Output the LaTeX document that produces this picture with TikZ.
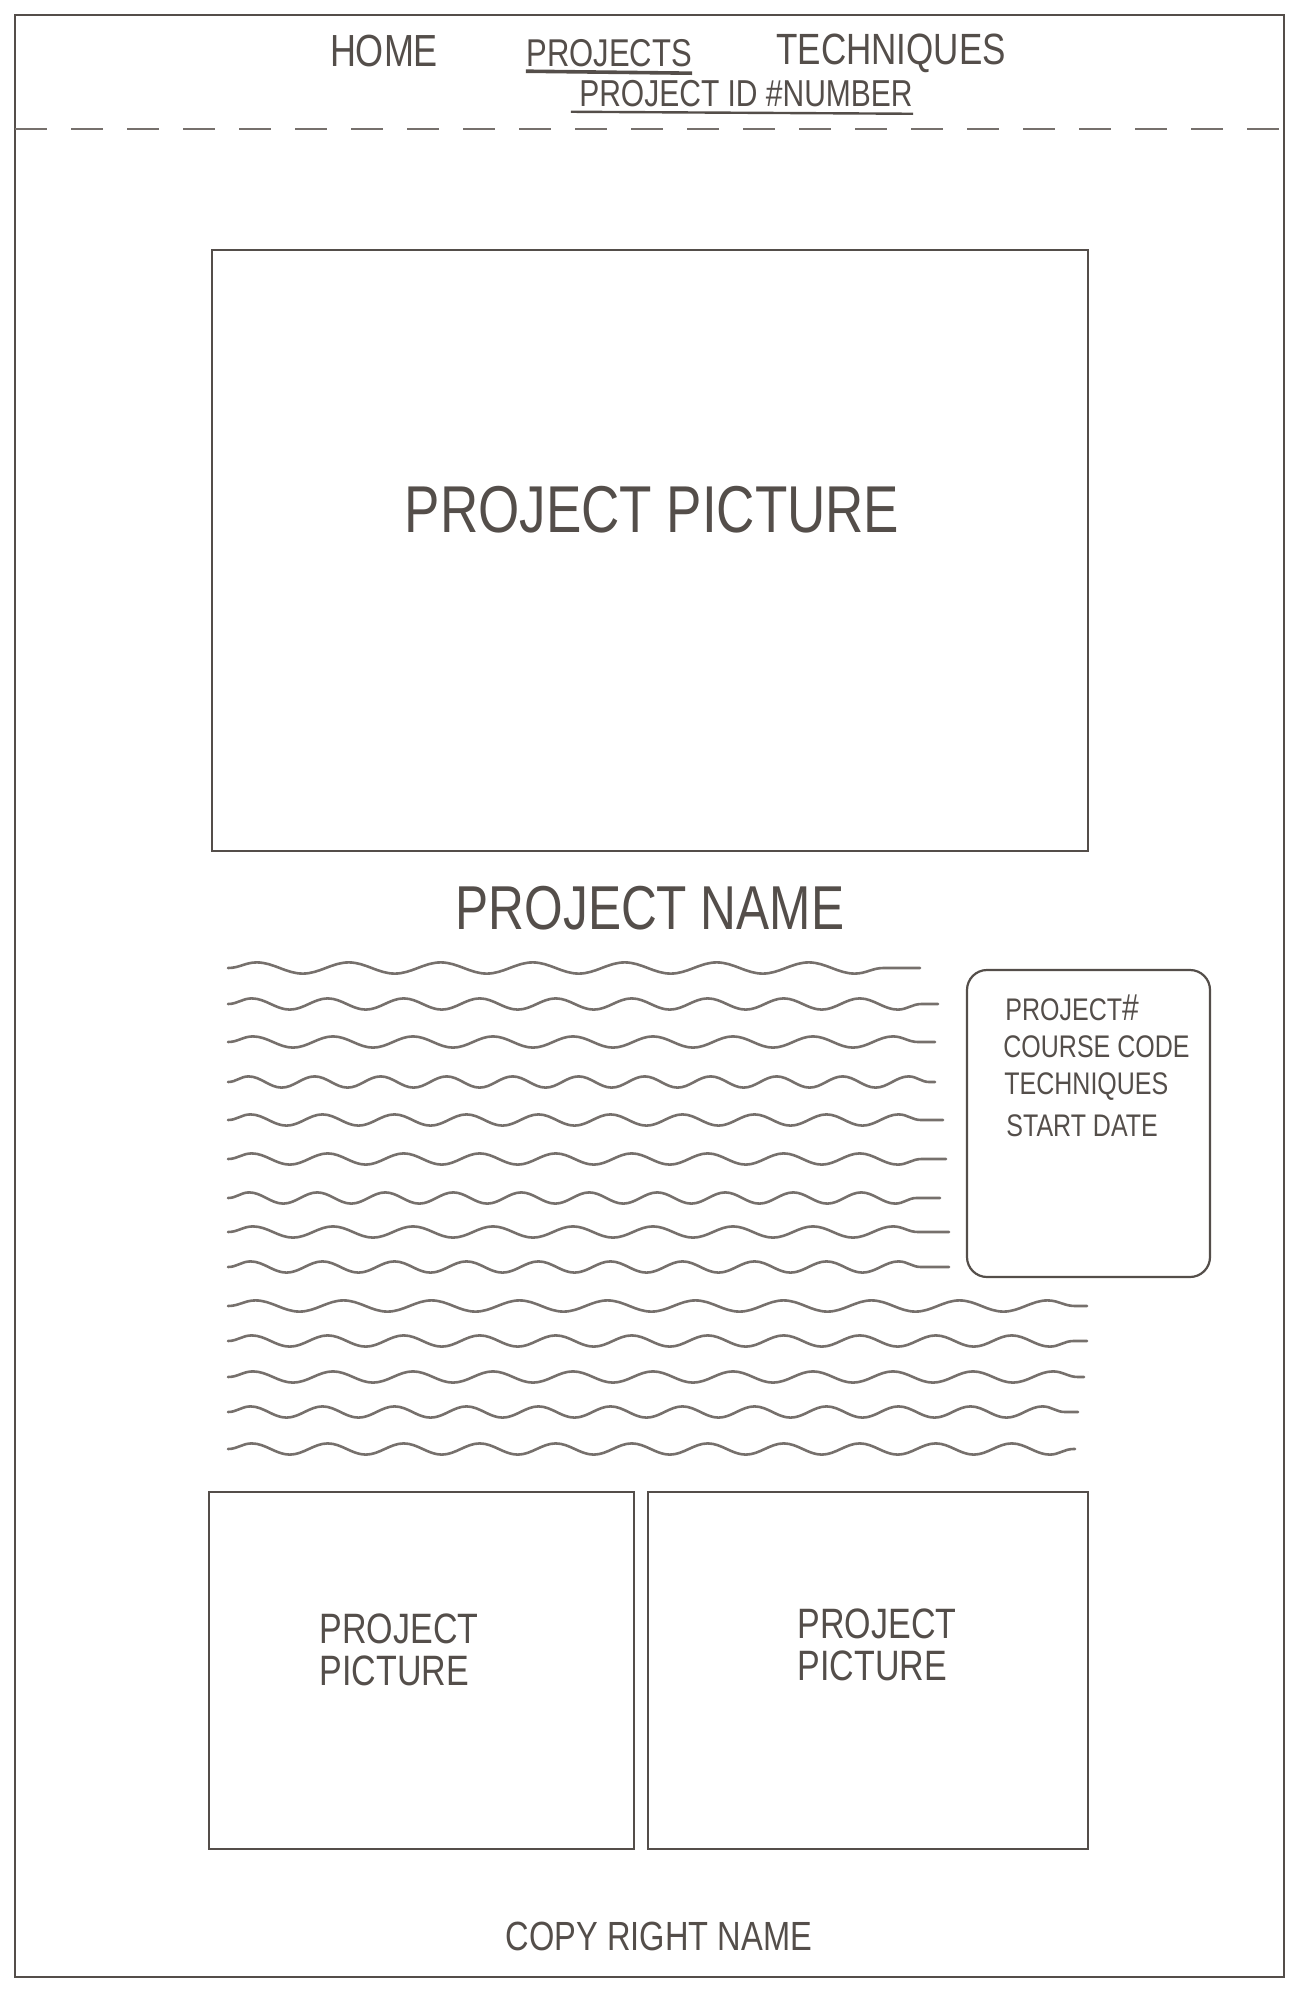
\documentclass[tikz,border=0pt]{standalone}
\usepackage{fontspec}
\setmainfont{Liberation Sans}
\usetikzlibrary{decorations.pathmorphing}
\definecolor{pencil}{RGB}{84,78,74}
\definecolor{lead}{RGB}{118,112,108}
\definecolor{faint}{RGB}{150,145,141}

\begin{document}
\begin{tikzpicture}[x=0.5pt, y=-0.5pt,
    hand/.style={text=pencil, inner sep=0pt, transform shape, yscale=1.25},
    frame/.style={draw=pencil, line width=1.1pt},
    wave/.style={draw=lead, line width=1.3pt, line cap=round, decorate,
      decoration={snake, amplitude=2.8pt, segment length=#1}}]
      \useasboundingbox (0,0) rectangle (1296,1989);

      % page and navigation bar
      \draw[frame] (15,15) rectangle (1284,1977);
      \node[hand, font=\fontsize{18}{20}\selectfont] (home) at (384,51) {HOME};
      \node[hand, font=\fontsize{15.5}{18}\selectfont] (projects) at (609,53) {PROJECTS};
      \node[hand, font=\fontsize{17.5}{20}\selectfont] (techniques) at (891,53) {TECHNIQUES};
      \draw[pencil, line width=1.8pt] ([yshift=-2pt]projects.south west) -- ([yshift=-3pt]projects.south east);
      \node[hand, font=\fontsize{15}{18}\selectfont] (projectid) at (746,94) {PROJECT ID \#NUMBER};
      \draw[pencil, line width=1.2pt] ([xshift=-4pt, yshift=-2pt]projectid.south west) -- ([yshift=-3pt]projectid.south east);
      \draw[lead, line width=1pt, dash pattern=on 16pt off 12pt] (15,129) -- (1284,129);

      % main picture and name
      \draw[frame] (212,250) rectangle (1088,851);
      \node[hand, font=\fontsize{26.5}{30}\selectfont] (mainpicture) at (652,510) {PROJECT PICTURE};
      \node[hand, font=\fontsize{24.8}{28}\selectfont] (projectname) at (650,908) {PROJECT NAME};

      % description text
      \foreach \y/\e/\s in {968/920/46pt, 1004/938/38pt, 1042/935/40pt, 1082/935/33pt,
          1120/943/36pt, 1159/946/38pt, 1198/940/34pt, 1232/949/40pt, 1267/949/36pt,
          1306/1087/44pt, 1341/1087/38pt, 1377/1084/40pt, 1412/1078/36pt, 1449/1075/38pt}
        \draw[wave=\s] (228,\y) -- (\e,\y);

      % project details
      \draw[frame, rounded corners=10pt] (967,970) rectangle (1210,1277);
      \node[hand, anchor=west, font=\fontsize{12.5}{14}\selectfont] (number) at (1005,1008) {PROJECT{\fontsize{15}{14}\selectfont\#}};
      \node[hand, anchor=west, font=\fontsize{12.5}{14}\selectfont] (course) at (1003,1047) {COURSE CODE};
      \node[hand, anchor=west, font=\fontsize{12.5}{14}\selectfont] (tech) at (1004,1087) {TECHNIQUES};
      \node[hand, anchor=west, font=\fontsize{12.5}{14}\selectfont] (start) at (1006,1126) {START DATE};

      % more pictures
      \draw[frame] (209,1492) rectangle (634,1849);
      \draw[frame] (648,1492) rectangle (1088,1849);
      \node[hand, align=left, font=\fontsize{17}{17}\selectfont] (leftpicture) at (399,1650) {PROJECT\\PICTURE};
      \node[hand, align=left, font=\fontsize{17}{17}\selectfont] (rightpicture) at (877,1645) {PROJECT\\PICTURE};

      % footer
      \node[hand, font=\fontsize{16.3}{18}\selectfont] (copyright) at (659,1936) {COPY RIGHT NAME};
\end{tikzpicture}
\end{document}
